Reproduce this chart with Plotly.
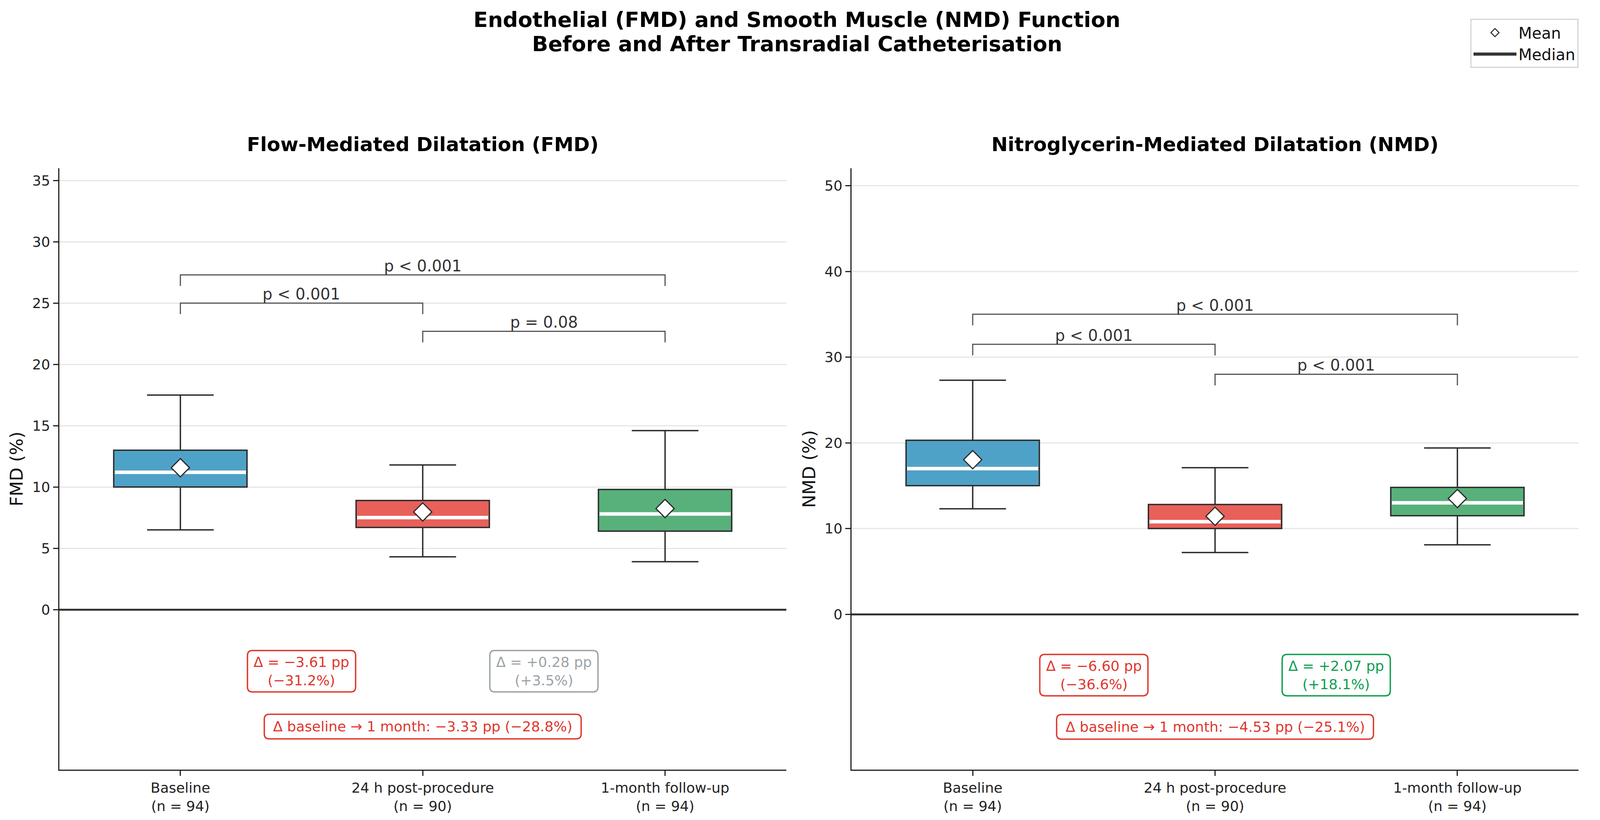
import plotly.graph_objects as go

W, H = 4200, 2100
FONT = "DejaVu Sans"

# ---------------- data ----------------
categories = ["Baseline", "24 h post-procedure", "1-month follow-up"]
n_counts = [94, 90, 94]
box_colors = ["#4FA2C7", "#E8605A", "#58B07B"]

fmd_lower = [6.5, 4.3, 3.9]
fmd_q1 = [10.0, 6.7, 6.4]
fmd_median = [11.2, 7.5, 7.8]
fmd_q3 = [13.0, 8.9, 9.8]
fmd_upper = [17.5, 11.8, 14.6]
fmd_mean = [11.57, 7.96, 8.24]

nmd_lower = [12.3, 7.2, 8.1]
nmd_q1 = [15.0, 10.0, 11.5]
nmd_median = [17.0, 10.8, 13.0]
nmd_q3 = [20.3, 12.8, 14.8]
nmd_upper = [27.3, 17.1, 19.4]
nmd_mean = [18.03, 11.43, 13.50]

bracket_pairs = [(0, 2), (0, 1), (1, 2)]
fmd_bracket_levels = [27.3, 25.0, 22.7]
fmd_bracket_labels = ["p < 0.001", "p < 0.001", "p = 0.08"]
nmd_bracket_levels = [35.0, 31.5, 28.0]
nmd_bracket_labels = ["p < 0.001", "p < 0.001", "p < 0.001"]

fmd_step_delta_pp = [-3.61, 0.28]
fmd_step_delta_pct = [-31.2, 3.5]
fmd_step_colors = ["#E0362C", "#9AA3A8"]
fmd_total_delta_pp = -3.33
fmd_total_delta_pct = -28.8

nmd_step_delta_pp = [-6.60, 2.07]
nmd_step_delta_pct = [-36.6, 18.1]
nmd_step_colors = ["#E0362C", "#0E9F4E"]
nmd_total_delta_pp = -4.53
nmd_total_delta_pct = -25.1

fmd_yticks = [0, 5, 10, 15, 20, 25, 30, 35]
nmd_yticks = [0, 10, 20, 30, 40, 50]
fmd_yrange = [-13.06, 36.0]
nmd_yrange = [-18.13, 52.03]
x_range = [-0.5, 2.5]

# ---------------- style / layout (pixels of a 4200x2100 canvas) ----------------
BOX_W = 0.55
DARK = "#2b2b2b"
RED = "#E0362C"
X1_DOM_PX = (156, 2072)
X2_DOM_PX = (2244, 4160)
Y_DOM_PX = (431, 1971)          # top, bottom
STEP_BOX_PX = (285, 106)        # delta label box size
TOTAL_BOX_PX = (835, 63)
BOX_RADIUS_PX = 13


def px_x(p):
    return p / W


def px_y(p):
    return 1 - p / H


def fmt(v, d):
    return f"{v:+.{d}f}".replace("-", "\u2212")


def rounded_box_path(xc, yc, wpx, hpx, sx, sy, r):
    """Rounded rectangle path in data units; sx, sy are px per data unit."""
    hw, hh = wpx / 2 / sx, hpx / 2 / sy
    rx, ry = r / sx, r / sy
    x0, x1, y0, y1 = xc - hw, xc + hw, yc - hh, yc + hh
    return (f"M{x0 + rx},{y0} L{x1 - rx},{y0} Q{x1},{y0} {x1},{y0 + ry} "
            f"L{x1},{y1 - ry} Q{x1},{y1} {x1 - rx},{y1} "
            f"L{x0 + rx},{y1} Q{x0},{y1} {x0},{y1 - ry} "
            f"L{x0},{y0 + ry} Q{x0},{y0} {x0 + rx},{y0} Z")


tick_text = [f"{c}<br>(n = {n})" for c, n in zip(categories, n_counts)]

fig = go.Figure()

panels = [
    dict(xa="x", ya="y", lower=fmd_lower, q1=fmd_q1, med=fmd_median, q3=fmd_q3,
         upper=fmd_upper, mean=fmd_mean, levels=fmd_bracket_levels,
         labels=fmd_bracket_labels, drop=0.9, yrange=fmd_yrange, xdom=X1_DOM_PX,
         step_pp=fmd_step_delta_pp, step_pct=fmd_step_delta_pct,
         step_col=fmd_step_colors, tot_pp=fmd_total_delta_pp,
         tot_pct=fmd_total_delta_pct, step_y=-5.03, tot_y=-9.55),
    dict(xa="x2", ya="y2", lower=nmd_lower, q1=nmd_q1, med=nmd_median, q3=nmd_q3,
         upper=nmd_upper, mean=nmd_mean, levels=nmd_bracket_levels,
         labels=nmd_bracket_labels, drop=1.3, yrange=nmd_yrange, xdom=X2_DOM_PX,
         step_pp=nmd_step_delta_pp, step_pct=nmd_step_delta_pct,
         step_col=nmd_step_colors, tot_pp=nmd_total_delta_pp,
         tot_pct=nmd_total_delta_pct, step_y=-7.1, tot_y=-13.14),
]

annotations = []
shapes = []

for p in panels:
    sx = (p["xdom"][1] - p["xdom"][0]) / (x_range[1] - x_range[0])
    sy = (Y_DOM_PX[1] - Y_DOM_PX[0]) / (p["yrange"][1] - p["yrange"][0])
    # boxes
    for i in range(3):
        fig.add_trace(go.Box(
            x=[i], q1=[p["q1"][i]], median=[p["med"][i]], q3=[p["q3"][i]],
            lowerfence=[p["lower"][i]], upperfence=[p["upper"][i]],
            width=BOX_W, whiskerwidth=0.5, fillcolor=box_colors[i],
            line=dict(color=DARK, width=3.5), boxpoints=False,
            xaxis=p["xa"], yaxis=p["ya"], showlegend=False, hoverinfo="skip",
        ))
    # white median lines
    for i in range(3):
        fig.add_trace(go.Scatter(
            x=[i - BOX_W / 2 * 0.985, i + BOX_W / 2 * 0.985],
            y=[p["med"][i], p["med"][i]], mode="lines",
            line=dict(color="white", width=9),
            xaxis=p["xa"], yaxis=p["ya"], showlegend=False, hoverinfo="skip",
        ))
    # means
    fig.add_trace(go.Scatter(
        x=list(range(3)), y=p["mean"], mode="markers",
        marker=dict(symbol="diamond", size=36, color="white",
                    line=dict(color=DARK, width=3)),
        xaxis=p["xa"], yaxis=p["ya"], showlegend=False, hoverinfo="skip",
    ))
    # significance brackets
    for (i, j), lev, lab in zip(bracket_pairs, p["levels"], p["labels"]):
        fig.add_trace(go.Scatter(
            x=[i, i, j, j], y=[lev - p["drop"], lev, lev, lev - p["drop"]],
            mode="lines", line=dict(color="#555555", width=3),
            xaxis=p["xa"], yaxis=p["ya"], showlegend=False, hoverinfo="skip",
        ))
        annotations.append(dict(
            x=(i + j) / 2, y=lev, xref=p["xa"], yref=p["ya"], text=lab,
            showarrow=False, xanchor="center", yanchor="bottom", yshift=-2,
            font=dict(family=FONT, size=40, color="#333333"),
        ))
    # delta boxes (rounded frames + text)
    for k in range(2):
        col = p["step_col"][k]
        shapes.append(dict(
            type="path", xref=p["xa"], yref=p["ya"], layer="above",
            path=rounded_box_path(k + 0.5, p["step_y"], *STEP_BOX_PX, sx, sy,
                                  BOX_RADIUS_PX),
            line=dict(color=col, width=3.5), fillcolor="white",
        ))
        annotations.append(dict(
            x=k + 0.5, y=p["step_y"], xref=p["xa"], yref=p["ya"],
            text=f"\u0394 = {fmt(p['step_pp'][k], 2)} pp<br>({fmt(p['step_pct'][k], 1)}%)",
            showarrow=False, align="center", xanchor="center", yanchor="middle",
            font=dict(family=FONT, size=36, color=col),
        ))
    shapes.append(dict(
        type="path", xref=p["xa"], yref=p["ya"], layer="above",
        path=rounded_box_path(1, p["tot_y"], *TOTAL_BOX_PX, sx, sy, BOX_RADIUS_PX),
        line=dict(color=RED, width=3.5), fillcolor="white",
    ))
    annotations.append(dict(
        x=1, y=p["tot_y"], xref=p["xa"], yref=p["ya"],
        text=(f"\u0394 baseline \u2192 1 month: {fmt(p['tot_pp'], 2)} pp "
              f"({fmt(p['tot_pct'], 1)}%)"),
        showarrow=False, xanchor="center", yanchor="middle",
        font=dict(family=FONT, size=36, color=RED),
    ))

# legend entries
fig.add_trace(go.Scatter(
    x=[None], y=[None], mode="markers", name="Mean",
    marker=dict(symbol="diamond", size=16, color="white",
                line=dict(color=DARK, width=2.5)),
))
fig.add_trace(go.Scatter(
    x=[None], y=[None], mode="lines", name="Median",
    line=dict(color="#333333", width=8),
))

# titles
title_font = dict(family=FONT, size=54, color="black")
sub_font = dict(family=FONT, size=50, color="black")
annotations += [
    dict(x=0.5, y=px_y(51), xref="paper", yref="paper", showarrow=False,
         text="<b>Endothelial (FMD) and Smooth Muscle (NMD) Function</b>",
         xanchor="center", yanchor="middle", font=title_font),
    dict(x=0.5, y=px_y(112), xref="paper", yref="paper", showarrow=False,
         text="<b>Before and After Transradial Catheterisation</b>",
         xanchor="center", yanchor="middle", font=title_font),
    dict(x=px_x(sum(X1_DOM_PX) / 2), y=px_y(370), xref="paper", yref="paper",
         showarrow=False, text="<b>Flow-Mediated Dilatation (FMD)</b>",
         xanchor="center", yanchor="middle", font=sub_font),
    dict(x=px_x(sum(X2_DOM_PX) / 2), y=px_y(370), xref="paper", yref="paper",
         showarrow=False, text="<b>Nitroglycerin-Mediated Dilatation (NMD)</b>",
         xanchor="center", yanchor="middle", font=sub_font),
]

xaxis_common = dict(
    range=x_range, tickmode="array", tickvals=[0, 1, 2], ticktext=tick_text,
    showline=True, linecolor="#222222", linewidth=3, ticks="outside",
    ticklen=13, tickwidth=2.5, tickcolor="#222222", showgrid=False,
    zeroline=False, tickfont=dict(family=FONT, size=36, color="#222222"),
)
yaxis_common = dict(
    showline=True, linecolor="#222222", linewidth=3, ticks="outside",
    ticklen=13, tickwidth=2.5, tickcolor="#222222", showgrid=True,
    gridcolor="#e6e6e6", gridwidth=2.5, zeroline=True, zerolinecolor="#333333",
    zerolinewidth=5, tickfont=dict(family=FONT, size=36, color="#222222"),
    tickmode="array",
)
ydom = [px_y(Y_DOM_PX[1]), px_y(Y_DOM_PX[0])]

fig.update_layout(
    autosize=True, height=H,
    margin=dict(l=0, r=0, t=0, b=0, autoexpand=False),
    paper_bgcolor="white", plot_bgcolor="white",
    font=dict(family=FONT, color="#222222"),
    boxmode="overlay",
    xaxis=dict(domain=[px_x(X1_DOM_PX[0]), px_x(X1_DOM_PX[1])], anchor="y",
               **xaxis_common),
    xaxis2=dict(domain=[px_x(X2_DOM_PX[0]), px_x(X2_DOM_PX[1])], anchor="y2",
                **xaxis_common),
    yaxis=dict(domain=ydom, anchor="x", range=fmd_yrange, tickvals=fmd_yticks,
               title=dict(text="FMD (%)", standoff=10,
                          font=dict(family=FONT, size=45, color="#111111")),
               **yaxis_common),
    yaxis2=dict(domain=ydom, anchor="x2", range=nmd_yrange, tickvals=nmd_yticks,
                title=dict(text="NMD (%)", standoff=10,
                           font=dict(family=FONT, size=45, color="#111111")),
                **yaxis_common),
    showlegend=True,
    legend=dict(x=px_x(X2_DOM_PX[1]), xanchor="right", y=px_y(48), yanchor="top",
                xref="paper", yref="paper",
                bgcolor="white", bordercolor="#d5d5d5", borderwidth=3,
                font=dict(family=FONT, size=40, color="#111111"),
                itemwidth=110, tracegroupgap=4),
    annotations=annotations,
    shapes=shapes,
)

fig.write_html(
    "out.html",
    config={"displayModeBar": False, "responsive": True},
    default_width="100%",
    default_height=f"{H}px",
    post_script="document.body.style.margin='0';document.body.style.overflow='hidden';",
)
